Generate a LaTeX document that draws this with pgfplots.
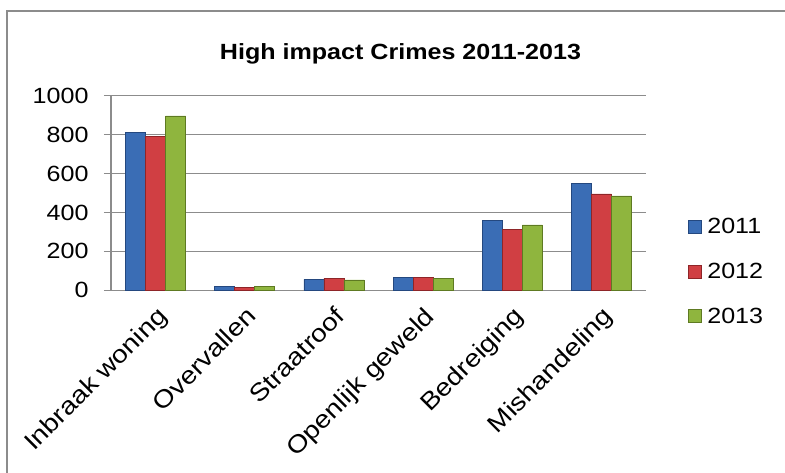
\documentclass[border=0pt]{standalone}
\usepackage{fontspec}
\setmainfont[FakeStretch=1.14]{Liberation Sans}
\usepackage{pgfplots}
\pgfplotsset{compat=1.18}

\definecolor{blueM}{HTML}{3A6DB5}
\definecolor{blueD}{HTML}{24487F}
\definecolor{redM}{HTML}{D03F43}
\definecolor{redD}{HTML}{8E2528}
\definecolor{greenM}{HTML}{8FB53E}
\definecolor{greenD}{HTML}{5E7A22}
\definecolor{gridgray}{HTML}{8C8C8C}

\begin{document}
\begin{tikzpicture}
\path[use as bounding box] (-111pt,-181.7pt) rectangle (674pt,290.3pt);
% chart frame, only left and top edges show
\draw[gridgray, line width=1.3pt] (-104pt,-190pt) -- (-104pt,279.3pt) -- (680pt,279.3pt);
\node[anchor=base, font=\fontsize{22}{26}\selectfont\bfseries] at (289.5pt,231pt) {High impact Crimes 2011-2013};

\begin{axis}[
  scale only axis,
  width=535pt, height=194.6pt,
  at={(0pt,0pt)}, anchor=south west,
  ybar=0pt, bar width=20pt,
  xmin=-0.5, xmax=5.5, ymin=0, ymax=1000,
  ytick={0,200,...,1000},
  xtick={0,...,5},
  xticklabels={Inbraak woning, Overvallen, Straatroof, Openlijk geweld, Bedreiging, Mishandeling},
  major x tick style={draw=none},
  extra x ticks={-0.5,0.5,...,5.5},
  extra x tick labels={},
  extra x tick style={major tick length=7pt, tick style={gridgray, line width=1.2pt}},
  axis x line*=bottom, axis y line*=left,
  axis line style={-, gridgray, line width=1.3pt},
  tick align=outside,
  major tick length=7pt,
  tick style={gridgray, line width=1.2pt},
  ymajorgrids,
  grid style={gridgray, line width=1.3pt},
  /pgf/number format/assume math mode=true,
  /pgf/number format/set thousands separator={},
  tick label style={font=\fontsize{22}{26}\selectfont},
  y tick label style={xshift=-12pt},
  x tick label style={rotate=45, anchor=north east, inner sep=2pt, font=\fontsize{24.5}{28}\selectfont},
  xticklabel shift=5pt,
  legend style={at={(1.072,0.097)}, anchor=west, draw=none, fill=none,
    font=\fontsize{22}{26}\selectfont, row sep=24pt,
    /tikz/every odd column/.append style={column sep=4pt}},
  legend cell align=left,
  legend image code/.code={\path[#1] (0pt,-6.5pt) rectangle (13pt,6.5pt);},
]
\addplot[draw=blueD, line width=0.6pt, fill=blueM]
  coordinates {(0,812) (1,20) (2,56) (3,68) (4,361) (5,550)};
\addplot[draw=redD, line width=0.6pt, fill=redM]
  coordinates {(0,791) (1,15) (2,63) (3,68) (4,315) (5,495)};
\addplot[draw=greenD, line width=0.6pt, fill=greenM]
  coordinates {(0,896) (1,20) (2,53) (3,63) (4,336) (5,485)};
\legend{2011,2012,2013}
\end{axis}
\end{tikzpicture}
\end{document}
